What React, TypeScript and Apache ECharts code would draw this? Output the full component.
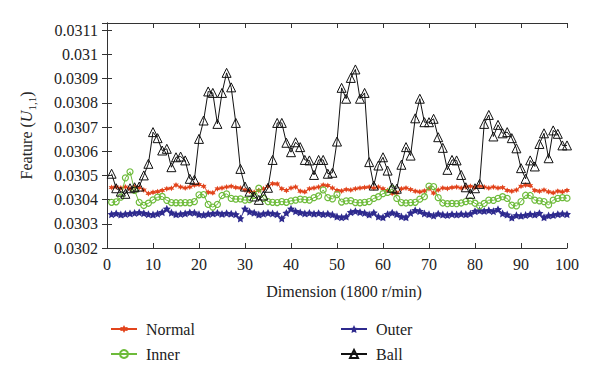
import React, { useEffect, useRef } from "react";
import * as echarts from "echarts";

const dims: number[] = Array.from({ length: 100 }, (_, i) => i + 1);

const normal: number[] = [
  0.03045, 0.030452, 0.030448, 0.030452, 0.030445, 0.030452, 0.03045, 0.03044, 0.030425, 0.03043,
  0.030433, 0.030438, 0.030445, 0.030447, 0.03046, 0.030452, 0.030448, 0.030452, 0.03046, 0.030462,
  0.030455, 0.03043, 0.030428, 0.030445, 0.030448, 0.030452, 0.030455, 0.03045, 0.030448, 0.03044,
  0.030435, 0.03043, 0.030438, 0.030445, 0.030455, 0.030466, 0.030465, 0.030445, 0.030438, 0.030448,
  0.030452, 0.030435, 0.030432, 0.030445, 0.030448, 0.030452, 0.03046, 0.030458, 0.030448, 0.030438,
  0.030436, 0.030442, 0.03044, 0.030445, 0.030448, 0.03045, 0.030452, 0.030448, 0.030452, 0.030445,
  0.030438, 0.030425, 0.030428, 0.030445, 0.030448, 0.030442, 0.030435, 0.030432, 0.030436, 0.030445,
  0.030427, 0.03044, 0.030448, 0.030446, 0.03045, 0.030452, 0.030448, 0.030452, 0.030455, 0.03045,
  0.030455, 0.030452, 0.030448, 0.030452, 0.030448, 0.03045, 0.030438, 0.030435, 0.03044, 0.030455,
  0.03046, 0.030458, 0.030438, 0.030435, 0.03044, 0.030432, 0.030428, 0.030435, 0.030432, 0.030438,
];

const inner: number[] = [
  0.030389, 0.030391, 0.03041, 0.03049, 0.030515, 0.030438, 0.030389, 0.030376, 0.030385, 0.030399,
  0.03041, 0.030413, 0.030397, 0.030388, 0.030387, 0.030387, 0.030388, 0.030387, 0.030392, 0.03042,
  0.030421, 0.03038, 0.030369, 0.03038, 0.030417, 0.030424, 0.030405, 0.030402, 0.030403, 0.030398,
  0.0304, 0.030418, 0.030447, 0.030405, 0.030392, 0.030389, 0.030388, 0.030392, 0.030389, 0.030395,
  0.030398, 0.030402, 0.0304, 0.030398, 0.030408, 0.030415, 0.03044, 0.030408, 0.030403, 0.030421,
  0.03039, 0.030395, 0.030396, 0.030388, 0.030387, 0.030389, 0.030392, 0.030405, 0.030412, 0.030425,
  0.03043, 0.030445, 0.030405, 0.030388, 0.030386, 0.030388, 0.030389, 0.030402, 0.030412, 0.030456,
  0.030454, 0.030408, 0.030386, 0.030383, 0.030384, 0.030383, 0.030386, 0.030392, 0.030395, 0.030385,
  0.030374, 0.030384, 0.030398, 0.030397, 0.030405, 0.030412, 0.030405, 0.030377, 0.030374, 0.030392,
  0.030418, 0.030417, 0.030398, 0.030395, 0.030392, 0.030378, 0.030398, 0.030405, 0.030408, 0.030406,
];

const outer: number[] = [
  0.03034, 0.030343, 0.030338, 0.030341, 0.030343, 0.030345, 0.030347, 0.030344, 0.03034, 0.030338,
  0.030342, 0.030348, 0.030362, 0.030346, 0.030339, 0.030341, 0.030343, 0.030347, 0.030346, 0.030339,
  0.030337, 0.030341, 0.030343, 0.030345, 0.030341, 0.030344, 0.030342, 0.030339, 0.030322, 0.030362,
  0.03035, 0.030346, 0.030338, 0.030342, 0.030345, 0.030343, 0.03034, 0.030322, 0.030345, 0.030362,
  0.030352, 0.030347, 0.030343, 0.030345, 0.030342, 0.030344, 0.03034, 0.030342, 0.030338, 0.03033,
  0.030327, 0.03033, 0.030348, 0.030352, 0.030348, 0.030345, 0.030338, 0.030346, 0.03033, 0.030327,
  0.03034, 0.030346, 0.03034, 0.03033, 0.030327, 0.030345, 0.030356, 0.030352, 0.030343, 0.030339,
  0.030334, 0.030342, 0.030338, 0.030336, 0.03034, 0.030338, 0.030341, 0.030339, 0.030342, 0.030352,
  0.030355, 0.030353, 0.030356, 0.030352, 0.03036, 0.030343, 0.030338, 0.030326, 0.030335, 0.030333,
  0.030336, 0.03034, 0.030338, 0.030344, 0.030327, 0.030334, 0.030336, 0.03034, 0.030342, 0.03034,
];

const ball: number[] = [
  0.030507, 0.030447, 0.030433, 0.030424, 0.030447, 0.030451, 0.030454, 0.0305, 0.030548, 0.030679,
  0.030654, 0.030603, 0.03061, 0.030534, 0.030575, 0.030578, 0.030562, 0.030486, 0.030482, 0.030651,
  0.030727, 0.030847, 0.030841, 0.030713, 0.030841, 0.030924, 0.030864, 0.030717, 0.030527, 0.030454,
  0.030433, 0.030413, 0.030399, 0.030417, 0.030449, 0.030564, 0.030717, 0.030717, 0.030635, 0.030596,
  0.030637, 0.030617, 0.030564, 0.030562, 0.030502, 0.030564, 0.030564, 0.030507, 0.030511, 0.03064,
  0.030862, 0.030817, 0.030903, 0.030938, 0.030817, 0.030841, 0.030555, 0.030458, 0.030541, 0.030575,
  0.03052, 0.030449, 0.030445, 0.030544, 0.030617, 0.030582, 0.030736, 0.030817, 0.03072, 0.03072,
  0.030734, 0.030658, 0.030614, 0.030523, 0.030564, 0.030562, 0.030502, 0.030451, 0.030424, 0.030447,
  0.030465, 0.030713, 0.03075, 0.030661, 0.030709, 0.030674, 0.030679, 0.030654, 0.030612, 0.03053,
  0.030486, 0.030562, 0.030537, 0.03063, 0.030674, 0.030571, 0.030686, 0.030672, 0.030624, 0.030624,
];

const xTicks = { min: 0, max: 100, interval: 10 };
const yTicks = { min: 0.0302, max: 0.03113, interval: 0.0001 };

const FONT = "Liberation Serif";
const AXIS_COLOR = "#333";

const STAR5 =
  "path://M0,-10L2.94,-4.05L9.51,-3.09L4.76,1.55L5.88,8.09L0,5L-5.88,8.09L-4.76,1.55L-9.51,-3.09L-2.94,-4.05Z";
const STAR6 =
  "path://M0,-10L2.5,-4.33L8.66,-5L5,0L8.66,5L2.5,4.33L0,10L-2.5,4.33L-8.66,5L-5,0L-8.66,-5L-2.5,-4.33Z";

export default function App() {
  const ref = useRef<HTMLDivElement>(null);

  useEffect(() => {
    if (!ref.current) return;
    const chart = echarts.init(ref.current, null, { renderer: "svg" });
    const pairs = (vals: number[]) => dims.map((d, i) => [d, vals[i]]);
    const fmt = (v: number) => {
      const k = Math.round(v / 0.0001);
      if (Math.abs(v - k * 0.0001) > 1e-9) return "";
      return String(parseFloat(v.toFixed(4)));
    };
    const axisCommon = {
      axisLine: { show: true, lineStyle: { color: AXIS_COLOR, width: 1 } },
      axisTick: { show: true, inside: true, length: 5, lineStyle: { color: AXIS_COLOR } },
      splitLine: { show: false },
    };
    chart.setOption({
      animation: false,
      backgroundColor: "#fff",
      textStyle: { fontFamily: FONT },
      grid: { left: 107, right: 33, top: 23, bottom: 132 },
      xAxis: [
        {
          type: "value",
          ...xTicks,
          position: "bottom",
          ...axisCommon,
          axisLabel: { fontFamily: FONT, fontSize: 16, color: "#222", margin: 8 },
          name: "Dimension (1800 r/min)",
          nameLocation: "middle",
          nameGap: 35,
          nameTextStyle: { fontFamily: FONT, fontSize: 16, color: "#222", padding: [0, 0, 0, 14] },
        },
        {
          type: "value",
          ...xTicks,
          position: "top",
          ...axisCommon,
          axisLabel: { show: false },
        },
      ],
      yAxis: [
        {
          type: "value",
          ...yTicks,
          position: "left",
          ...axisCommon,
          axisLabel: {
            fontFamily: FONT,
            fontSize: 16,
            color: "#222",
            margin: 9,
            showMaxLabel: false,
            formatter: fmt,
          },
          name: "{a|Feature (}{b|U}{c|1,1}{a|)}",
          nameLocation: "middle",
          nameGap: 70,
          nameRotate: 90,
          nameTextStyle: {
            color: "#222",
            fontFamily: FONT,
            rich: {
              a: { fontFamily: FONT, fontSize: 16, color: "#222", lineHeight: 22 },
              b: { fontFamily: FONT, fontSize: 16, fontStyle: "italic", color: "#222", lineHeight: 22 },
              c: { fontFamily: FONT, fontSize: 11, color: "#222", verticalAlign: "bottom", lineHeight: 22 },
            },
          },
        },
        {
          type: "value",
          ...yTicks,
          position: "right",
          ...axisCommon,
          axisLabel: { show: false },
        },
      ],
      legend: [
        {
          data: ["Normal", "Inner"],
          orient: "vertical",
          left: 105,
          top: 316,
          itemWidth: 26,
          itemHeight: 10,
          itemGap: 9,
          textStyle: { fontFamily: FONT, fontSize: 16, color: "#222", padding: [0, 0, 0, 4] },
        },
        {
          data: ["Outer", "Ball"],
          orient: "vertical",
          left: 335,
          top: 316,
          itemWidth: 26,
          itemHeight: 10,
          itemGap: 9,
          textStyle: { fontFamily: FONT, fontSize: 16, color: "#222", padding: [0, 0, 0, 4] },
        },
      ],
      series: [
        {
          name: "Normal",
          type: "line",
          data: pairs(normal),
          symbol: STAR6,
          symbolSize: 6,
          lineStyle: { color: "#e2441c", width: 1 },
          itemStyle: { color: "#e2441c" },
          z: 3,
        },
        {
          name: "Inner",
          type: "line",
          data: pairs(inner),
          symbol: "circle",
          symbolSize: 6,
          lineStyle: { color: "#6dbb3a", width: 1 },
          itemStyle: { color: "rgba(255,255,255,0)", borderColor: "#6dbb3a", borderWidth: 1.2 },
          z: 4,
        },
        {
          name: "Outer",
          type: "line",
          data: pairs(outer),
          symbol: STAR5,
          symbolSize: 8,
          lineStyle: { color: "#2e2a8e", width: 1 },
          itemStyle: { color: "#2e2a8e" },
          z: 2,
        },
        {
          name: "Ball",
          type: "line",
          data: pairs(ball),
          symbol: "triangle",
          symbolSize: 9,
          lineStyle: { color: "#111", width: 1 },
          itemStyle: { color: "rgba(255,255,255,0)", borderColor: "#111", borderWidth: 1 },
          z: 5,
        },
      ],
    });
    return () => chart.dispose();
  }, []);

  return <div ref={ref} style={{ width: 600, height: 380, margin: -8 }} />;
}
